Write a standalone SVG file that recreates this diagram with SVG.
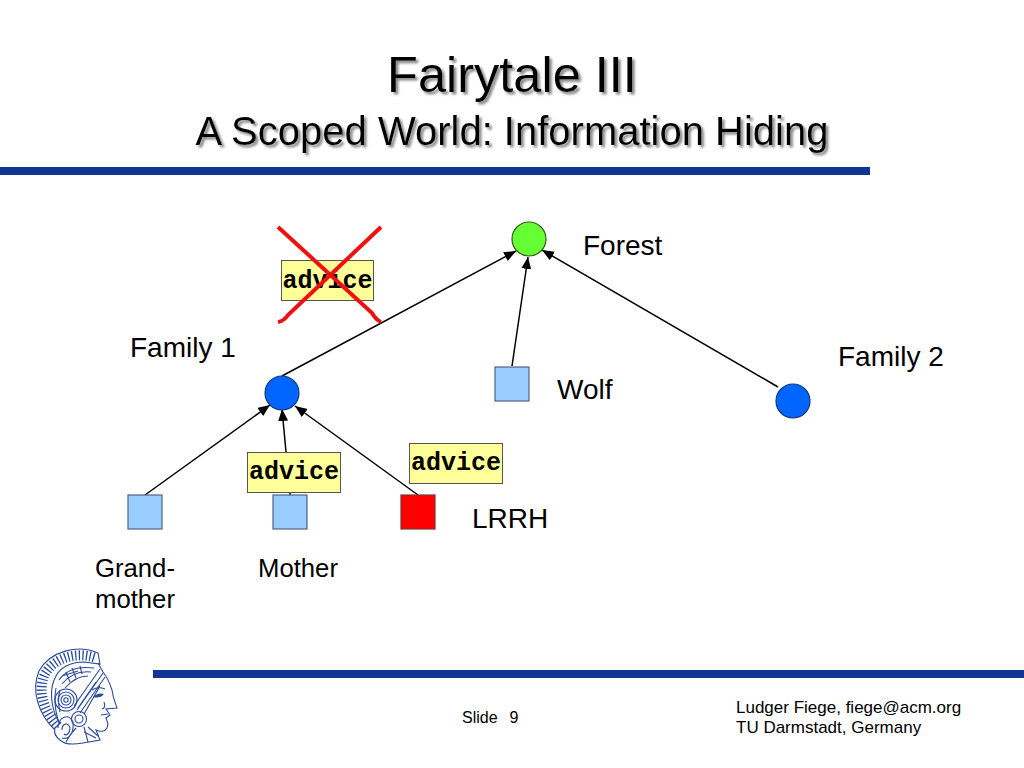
<svg xmlns="http://www.w3.org/2000/svg" width="1024" height="768" viewBox="0 0 1024 768">
<style>
text{font-family:"Liberation Sans",Arial,sans-serif;fill:#000}
.lbl{font-size:28px}
.sm{font-size:25.700px}
.foot{font-size:17px}
.title{filter:url(#sh)}
.mono{font-family:"Liberation Mono","Courier New",monospace;font-weight:bold;font-size:25px}
.conn{stroke:#000;stroke-width:1.5;fill:none;marker-end:url(#arr)}
.note{fill:#ffff99;stroke:#555;stroke-width:1}
.sq{fill:#99ccff;stroke:#4d6680;stroke-width:1.2}
.x{stroke:#f01010;stroke-width:4;fill:none}
.lg{fill:none;stroke:#2a4a9a;stroke-width:1.1}
.hatch{fill:none;stroke:#2a4a9a;stroke-width:10;stroke-dasharray:1.300 2.300}
</style>
<defs>
<marker id="arr" markerUnits="userSpaceOnUse" markerWidth="13" markerHeight="11" refX="12" refY="5" orient="auto"><path d="M0 0L12 5L0 10Z" fill="#000"/></marker>
<filter id="sh" x="-5%" y="-20%" width="110%" height="140%"><feDropShadow dx="2.500" dy="2.500" stdDeviation="0.800" flood-color="#888"/></filter>
</defs>
<rect width="1024" height="768" fill="#fff"/>
<g id="title">
<text class="title" x="512" y="92" text-anchor="middle" font-size="50.500">Fairytale III</text>
<text class="title" x="512" y="145" text-anchor="middle" font-size="40">A Scoped World: Information Hiding</text>
</g>
<rect id="rule-top" x="0" y="167" width="870" height="8" fill="#123594"/>
<rect id="rule-bottom" x="153" y="670" width="871" height="8" fill="#123594"/>
<g id="connectors">
<path class="conn" d="M282 376L516 251"/>
<path class="conn" d="M512 366L528 257"/>
<path class="conn" d="M778 387L542 250"/>
<path class="conn" d="M145 495L270 405"/>
<path class="conn" d="M286 452L282 409"/>
<path class="conn" d="M418 495L295 406"/>
<path d="M290 492V495" stroke="#000" stroke-width="1.500"/>
</g>
<g id="forest"><circle cx="529" cy="239" r="17" fill="#66ff33" stroke="#2f5f1f" stroke-width="1.200"/><text class="lbl" x="583" y="255">Forest</text></g>
<g id="family1"><circle cx="282" cy="393" r="17" fill="#0066ff" stroke="#123a80" stroke-width="1.200"/><text class="lbl" x="130" y="357">Family 1</text></g>
<g id="family2"><circle cx="793" cy="401" r="17" fill="#0066ff" stroke="#123a80" stroke-width="1.200"/><text class="lbl" x="838" y="366">Family 2</text></g>
<g id="wolf"><rect class="sq" x="495" y="367" width="34" height="34"/><text class="lbl" x="557" y="399">Wolf</text></g>
<g id="grandmother"><rect class="sq" x="128" y="495" width="34" height="34"/><text class="sm" x="95" y="577">Grand-</text><text class="sm" x="95" y="608">mother</text></g>
<g id="mother"><rect class="sq" x="273" y="495" width="34" height="34"/><text class="sm" x="258" y="577">Mother</text></g>
<g id="lrrh"><rect x="401" y="495" width="34" height="34" fill="#ff0000" stroke="#803333" stroke-width="1.200"/><text class="lbl" x="472" y="528">LRRH</text></g>
<g id="advice-crossed"><rect class="note" x="281.500" y="260.500" width="92" height="40"/><text class="mono" x="327.500" y="288" text-anchor="middle">advice</text>
<path class="x" d="M278 227L372 313Q376 320 381 322"/><path class="x" d="M381 227L288 315Q284 321 278 322"/></g>
<g id="advice-mother"><rect class="note" x="247.500" y="452.500" width="93" height="40"/><text class="mono" x="294" y="479" text-anchor="middle">advice</text></g>
<g id="advice-lrrh"><rect class="note" x="409.500" y="443.500" width="93" height="40"/><text class="mono" x="456" y="470" text-anchor="middle">advice</text></g>
<g id="logo">
<path class="hatch" d="M58 726C44 712 37 690 45 674C54 658 76 651 96 658"/>
<path class="lg" stroke-width="1.300" d="M55 730C38 714 31 690 39 671C50 651 78 644 98 653L100 664L84 662C70 662 60 668 56 676C49 688 50 708 60 724"/>
<path class="lg" d="M98 663L103 672C108 678 110 684 112 690C113 698 115 702 117 708L106 709L110 715L106 718L108 724L107 728C105 732 100 732 96 730L100 740L83 743C72 745 64 744 60 740C55 736 54 732 55 730"/>
<path class="lg" d="M59 680C66 670 78 666 94 668M62 684C70 674 80 671 91 672M65 688C72 680 80 676 88 676M100 669L74 706M103 673L77 710M105 677L80 713M100 686L84 714M96 682L78 708M60 690Q57 700 60 712M56 688Q53 702 58 720"/>
<path class="lg" d="M62 676L78 671M66 672L70 682M72 668L76 678M80 666L82 674"/>
<circle class="lg" cx="66" cy="700" r="11"/><circle class="lg" cx="66" cy="700" r="8"/><circle class="lg" cx="66" cy="700" r="5"/><circle class="lg" cx="66" cy="700" r="2.200"/>
<circle class="lg" cx="79" cy="719" r="7.500"/><circle class="lg" cx="79" cy="719" r="4"/>
<path class="lg" d="M58 728C58 718 68 712 73 722C74 732 70 740 62 738M62 730C62 723 68 722 70 728C70 734 66 736 64 734M66 742C70 734 74 730 76 728M84 727L88 742M88 727L98 736M84 732L96 738"/>
<path d="M93 697Q98 692 104 694Q100 699 93 697Z" fill="#2a4a9a"/>
<path class="lg" d="M92 690Q98 686 105 689M101 715L108 714M104 702Q106 708 102 709"/>
</g>
<g id="footer">
<text class="foot" x="462" y="723" font-size="16" style="font-size:16px">Slide<tspan x="509.500">9</tspan></text>
<text class="foot" x="736" y="713">Ludger Fiege, fiege@acm.org</text>
<text class="foot" x="736" y="733">TU Darmstadt, Germany</text>
</g>
</svg>
